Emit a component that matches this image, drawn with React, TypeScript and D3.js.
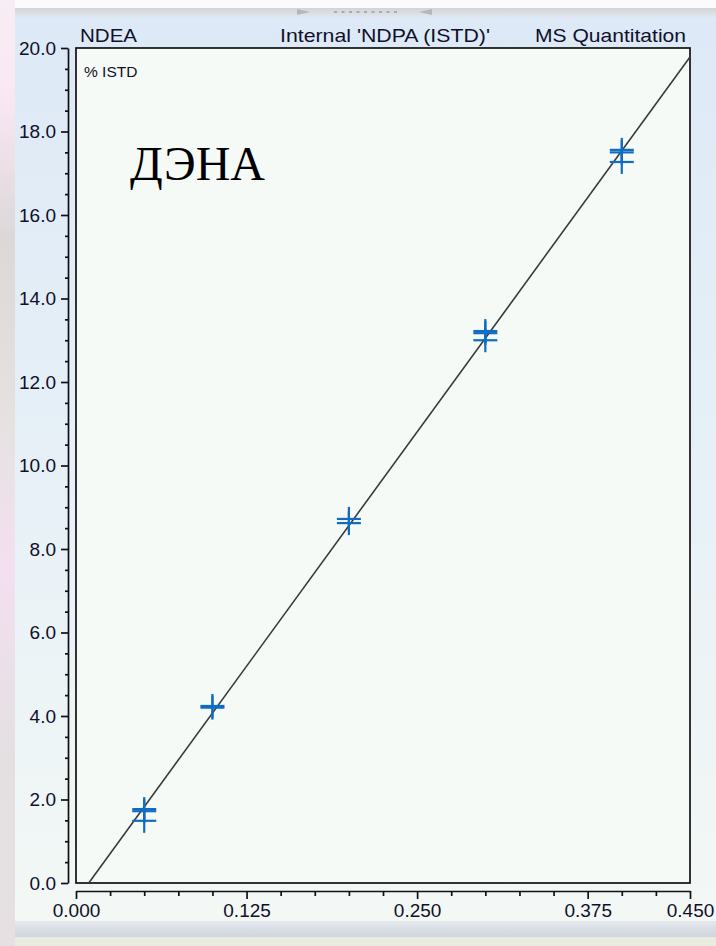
import React, { useEffect, useRef } from 'react';
import * as d3 from 'd3';

// calibration levels (amount) and response (% ISTD), replicates
const levelX = [0.05, 0.05, 0.05, 0.1, 0.1, 0.2, 0.2, 0.3, 0.3, 0.3, 0.4, 0.4, 0.4];
const responseY = [1.77, 1.72, 1.49, 4.24, 4.2, 8.72, 8.62, 13.22, 13.17, 13.0, 17.56, 17.5, 17.27];

// fitted calibration line y = slope * x + intercept
const fitSlope = 44.9;
const fitIntercept = -0.42;

const xMajorTicks = [0, 0.125, 0.25, 0.375, 0.45];
const yMajorTicks = [0, 2, 4, 6, 8, 10, 12, 14, 16, 18, 20];

const titles = ['NDEA', "Internal 'NDPA (ISTD)'", 'MS Quantitation'];

const W = 716;
const H = 946;

const frame = { left: 76, right: 690, top: 48, bottom: 883 };

export default function App() {
  const axRef = useRef<SVGGElement>(null);

  const x = d3.scaleLinear().domain([0, 0.45]).range([frame.left, frame.right]);
  const y = d3.scaleLinear().domain([0, 20]).range([frame.bottom, frame.top]);

  useEffect(() => {
    const g = d3.select(axRef.current);
    g.selectAll('*').remove();

    const font = '"Liberation Sans", Arial, sans-serif';

    // y axis (offset left of frame)
    const yMinor = d3.range(0, 20.01, 0.5).filter((v) => Math.abs(v % 2) > 0.01);
    const yAx = g.append('g').attr('transform', 'translate(68,0)');
    yAx.call(d3.axisLeft(y).tickValues(yMinor).tickSize(3).tickSizeOuter(0).tickFormat(() => ''));
    yAx.call((s) => s.select('.domain').remove());
    const yAxMaj = g.append('g').attr('transform', 'translate(68,0)');
    yAxMaj.call(
      d3.axisLeft(y).tickValues(yMajorTicks).tickSize(7).tickSizeOuter(0).tickPadding(5)
        .tickFormat((d) => d3.format('.1f')(d as number))
    );

    // x axis (offset below frame)
    const xMinor = d3.range(0, 0.4501, 0.025).filter((v) => !xMajorTicks.some((m) => Math.abs(m - v) < 1e-6));
    const xAx = g.append('g').attr('transform', 'translate(0,891)');
    xAx.call(d3.axisBottom(x).tickValues(xMinor).tickSize(5).tickSizeOuter(0).tickFormat(() => ''));
    xAx.call((s) => s.select('.domain').remove());
    const xAxMaj = g.append('g').attr('transform', 'translate(0,891)');
    xAxMaj.call(
      d3.axisBottom(x).tickValues(xMajorTicks).tickSize(8).tickSizeOuter(0).tickPadding(5)
        .tickFormat((d) => d3.format('.3f')(d as number))
    );

    g.selectAll('.domain').attr('stroke', '#111').attr('stroke-width', 1.7);
    g.selectAll('.tick line').attr('stroke', '#111').attr('stroke-width', 1.7);
    g.selectAll('.tick text')
      .attr('font-family', font)
      .attr('font-size', 19)
      .attr('fill', '#10102a');
  }, []);

  const x0 = -fitIntercept / fitSlope;
  const linePts: [number, number][] = [
    [x0, 0],
    [0.45, fitSlope * 0.45 + fitIntercept],
  ];
  const line = d3.line<[number, number]>().x((d) => x(d[0])).y((d) => y(d[1]));

  const arm = 12;
  const titleFont = '"Liberation Sans", Arial, sans-serif';

  return (
    <svg width={W} height={H} style={{ position: 'absolute', left: 0, top: 0, display: 'block' }}>
      <defs>
        <linearGradient id="panel" x1="0" y1="0" x2="0" y2="1">
          <stop offset="0" stopColor="#dde9f6" />
          <stop offset="0.55" stopColor="#e8f1f7" />
          <stop offset="1" stopColor="#f3f8f5" />
        </linearGradient>
        <linearGradient id="topband" x1="0" y1="0" x2="0" y2="1">
          <stop offset="0" stopColor="#cfd5dc" />
          <stop offset="1" stopColor="#e2e6ea" />
        </linearGradient>
        <linearGradient id="botband" x1="0" y1="0" x2="0" y2="1">
          <stop offset="0" stopColor="#e4e8ee" />
          <stop offset="1" stopColor="#cfd5de" />
        </linearGradient>
        <linearGradient id="leftstrip" x1="0" y1="0" x2="0" y2="1">
          <stop offset="0" stopColor="#f6eef4" />
          <stop offset="0.1" stopColor="#f8e8f4" />
          <stop offset="0.25" stopColor="#dcd8d8" />
          <stop offset="0.45" stopColor="#e6e2e2" />
          <stop offset="0.6" stopColor="#f2e0f0" />
          <stop offset="0.8" stopColor="#e4e0e2" />
          <stop offset="1" stopColor="#e6e0e2" />
        </linearGradient>
      </defs>

      {/* page background */}
      <rect x={0} y={0} width={W} height={H} fill="#fbfbfb" />
      <rect x={0} y={0} width={15} height={H} fill="url(#leftstrip)" />
      <rect x={15} y={8} width={W - 15} height={9} fill="url(#topband)" />
      <path d="M297,9 L310,12 L297,15 Z" fill="#b4b8bd" />
      {d3.range(9).map((i) => (
        <rect key={i} x={334 + i * 7.5} y={11} width={3} height={2} fill="#a9aeb4" />
      ))}
      <path d="M432,9 L419,12 L432,15 Z" fill="#b4b8bd" />
      <rect x={15} y={17} width={W - 15} height={904} fill="url(#panel)" />
      <rect x={15} y={921} width={W - 15} height={16} fill="url(#botband)" />
      <rect x={15} y={937} width={W - 15} height={9} fill="#eaece0" />

      {/* titles */}
      <text x={80} y={42} fontFamily={titleFont} fontSize={19} fill="#10102a" textLength={57} lengthAdjust="spacingAndGlyphs">
        {titles[0]}
      </text>
      <text x={280} y={42} fontFamily={titleFont} fontSize={19} fill="#10102a" textLength={210} lengthAdjust="spacingAndGlyphs">
        {titles[1]}
      </text>
      <text x={535} y={42} fontFamily={titleFont} fontSize={19} fill="#10102a" textLength={151} lengthAdjust="spacingAndGlyphs">
        {titles[2]}
      </text>

      {/* plot frame */}
      <rect
        x={frame.left}
        y={frame.top}
        width={frame.right - frame.left}
        height={frame.bottom - frame.top}
        fill="#f5faf6"
        stroke="#111"
        strokeWidth={1.7}
      />

      <text x={84} y={77} fontFamily={titleFont} fontSize={15.5} fill="#10102a">
        % ISTD
      </text>

      <text x={130} y={180} fontFamily='"Liberation Serif", "Times New Roman", serif' fontSize={48} fill="#000">
        ДЭНА
      </text>

      {/* calibration line */}
      <path d={line(linePts) ?? ''} fill="none" stroke="#3a3a3a" strokeWidth={1.6} />

      {/* calibration points */}
      <g stroke="#0f6cc2" strokeWidth={2.2}>
        {levelX.map((lx, i) => (
          <g key={i}>
            <line x1={x(lx) - arm} x2={x(lx) + arm} y1={y(responseY[i])} y2={y(responseY[i])} />
            <line x1={x(lx)} x2={x(lx)} y1={y(responseY[i]) - arm} y2={y(responseY[i]) + arm} />
          </g>
        ))}
      </g>

      <g ref={axRef} />
    </svg>
  );
}
